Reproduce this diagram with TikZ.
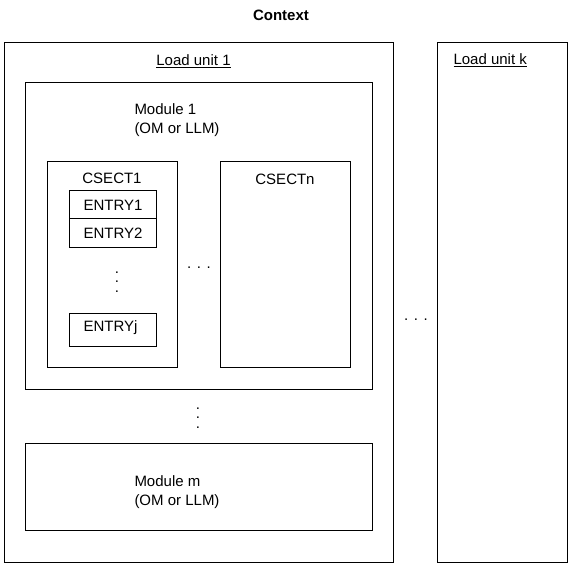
\documentclass[tikz,border=0pt]{standalone}
\usepackage{fontspec}
\setmainfont{Liberation Sans}
\usetikzlibrary{positioning}

\begin{document}
\begin{tikzpicture}[x=1pt, y=-1pt, line width=1pt,
        box/.style = {draw, rectangle, inner sep=0pt, outer sep=0pt, anchor=north west},
        lbl/.style = {inner sep=0pt, font=\fontsize{15}{18.5}\selectfont},
        entry/.style = {box, lbl, minimum width=87pt, text width=58pt, align=left},
        dots/.style = {inner sep=0pt, font=\fontsize{15}{18}\selectfont},
        vdots/.style = {inner sep=0pt, align=center, font=\fontsize{15}{9.3}\selectfont}]
    \useasboundingbox (0,0) rectangle (579,575);

    \node[lbl, font=\fontsize{15}{18}\selectfont\bfseries] (ctx) at (281,15) {Context};

    % load units
    \node[box, minimum width=389pt, minimum height=519pt] (lu1) at (4,43) {};
    \node[box, minimum width=130pt, minimum height=519pt] (luk) at (437,43) {};
    \node[lbl, anchor=base] (lu1lbl) at (193.5,66) {\underline{Load unit 1}};
    \node[lbl, anchor=base west] (uklbl) at (453,65) {\underline{Load unit k}};
    \node[dots] (hdots2) at (416,320) {. . .};

    % module 1
    \node[box, minimum width=347pt, minimum height=306pt] (mod1) at (25,83) {};
    \node[lbl, anchor=base west, align=left] (mod1lbl) at (134,133.5) {Module 1\\(OM or LLM)};

    % csects
    \node[box, minimum width=130pt, minimum height=205pt] (cs1) at (47,162) {};
    \node[box, minimum width=130pt, minimum height=205pt] (csn) at (220,162) {};
    \node[lbl, anchor=base] (cs1lbl) at (112,184) {CSECT1};
    \node[lbl, anchor=base] (csnlbl) at (285,185) {CSECTn};
    \node[dots] (hdots1) at (199,268) {. . .};

    % entries
    \node[entry, minimum height=28pt] (e1) at (69,191) {ENTRY1};
    \node[entry, minimum height=29pt] (e2) at (69,219) {ENTRY2};
    \node[vdots] (vdots1) at (117,282) {.\\.\\.};
    \node[entry, minimum height=33pt, text depth=7pt] (ej) at (69,313) {ENTRYj};

    % module m
    \node[vdots] (vdots2) at (198,418) {.\\.\\.};
    \node[box, minimum width=347pt, minimum height=87pt] (modm) at (25,443) {};
    \node[lbl, anchor=base west, align=left] (modmlbl) at (134,505) {Module m\\(OM or LLM)};
\end{tikzpicture}
\end{document}
